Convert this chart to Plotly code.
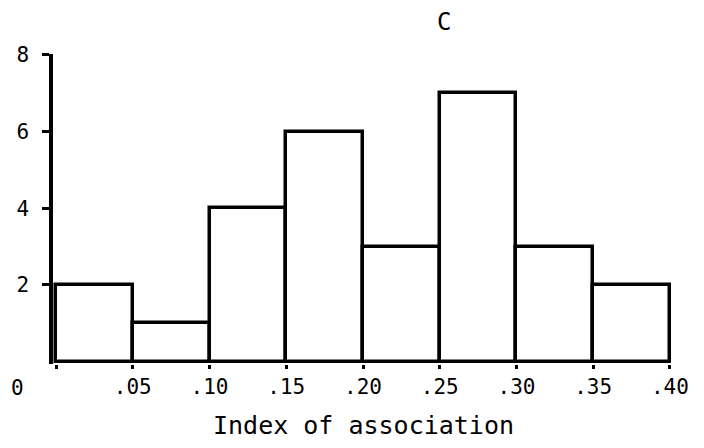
import plotly.graph_objects as go

# Histogram of index of association (panel C)
bin_edges = [0.00, 0.05, 0.10, 0.15, 0.20, 0.25, 0.30, 0.35, 0.40]
counts = [2, 1, 4, 6, 3, 7, 3, 2]
x_tick_vals = [0.00, 0.05, 0.10, 0.15, 0.20, 0.25, 0.30, 0.35, 0.40]
x_tick_text = ["", ".05", ".10", ".15", ".20", ".25", ".30", ".35", ".40"]
y_tick_vals = [2, 4, 6, 8]

FONT = "DejaVu Sans Mono, monospace"

centers = [(a + b) / 2 for a, b in zip(bin_edges[:-1], bin_edges[1:])]
widths = [b - a for a, b in zip(bin_edges[:-1], bin_edges[1:])]

fig = go.Figure(
    go.Bar(
        x=centers,
        y=counts,
        width=widths,
        marker=dict(color="white", line=dict(color="black", width=3.5)),
        hoverinfo="skip",
    )
)

# page body adds an 8px margin all round, so size the figure to fit inside
fig.update_layout(
    width=688,
    height=432,
    paper_bgcolor="white",
    plot_bgcolor="white",
    showlegend=False,
    font=dict(family=FONT, color="black", size=20),
    margin=dict(l=45, r=23, t=46, b=76),
    bargap=0,
)

fig.update_xaxes(
    range=[-0.002, 0.402],
    tickvals=x_tick_vals,
    ticktext=x_tick_text,
    ticks="outside",
    ticklen=4,
    tickwidth=3,
    tickcolor="black",
    showline=False,
    showgrid=False,
    zeroline=False,
    automargin=False,
    tickfont=dict(size=21),
)

fig.update_yaxes(
    range=[-0.06, 8.02],
    tickvals=y_tick_vals,
    ticks="outside",
    ticklen=7,
    tickwidth=3,
    tickcolor="black",
    showline=True,
    linecolor="black",
    linewidth=3.5,
    showgrid=False,
    zeroline=False,
    automargin=False,
    tickfont=dict(size=21),
    ticklabelstandoff=9,
)

# origin label sits well left of the axis in the original
fig.add_annotation(
    x=0, y=0, xref="x", yref="y", text="0", showarrow=False,
    xanchor="center", yanchor="top", xshift=-39, yshift=-12,
    font=dict(size=21),
)

# x-axis title, set lower than plotly's title would sit
fig.add_annotation(
    x=0.2, y=0, xref="x", yref="paper", text="Index of association",
    showarrow=False, xanchor="center", yanchor="top", yshift=-45,
    font=dict(size=25),
)

# panel letter
fig.add_annotation(
    x=0.2525, y=1.0, xref="x", yref="paper", text="C", showarrow=False,
    xanchor="center", yanchor="bottom", yshift=16,
    font=dict(size=24),
)

fig.write_html("out.html")
